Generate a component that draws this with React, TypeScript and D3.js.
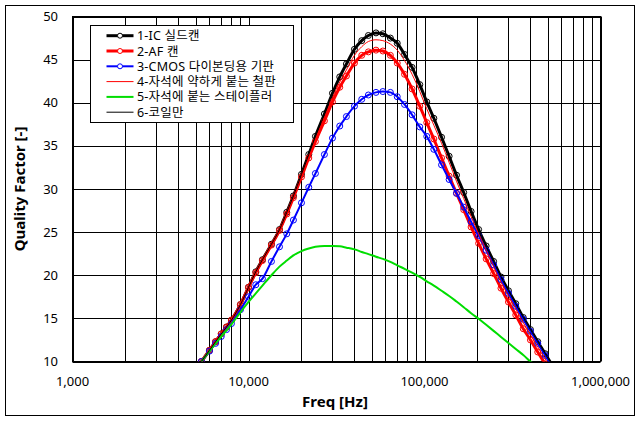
import React from 'react';
import * as d3 from 'd3';

// measured sweep frequencies [Hz]
const freqs = [
  5400, 6000, 6500, 7000, 7500, 8000, 9000, 10000, 11000, 12000, 13500, 15000,
  16500, 18000, 20000, 22000, 24000, 27000, 30000, 33000, 36000, 40000, 44000,
  48000, 53000, 58000, 64000, 70000, 77000, 85000, 94000, 103000, 113000,
  125000, 138000, 152000, 167000, 184000, 203000, 224000, 247000, 272000,
  300000, 330000, 364000, 400000, 440000, 485000, 530000,
];

// Quality factor per series
const q1 = [
  10.0, 11.3, 12.3, 13.2, 14.0, 14.8, 16.6, 18.6, 20.4, 21.8, 23.6, 25.3,
  27.3, 29.2, 31.7, 34.0, 36.1, 38.7, 41.1, 43.0, 44.5, 46.2, 47.2,
  47.8, 48.1, 48.0, 47.5, 46.9, 45.6, 44.1, 42.1, 40.1, 38.2,
  36.0, 33.8, 31.6, 29.6, 27.4, 25.3, 23.4, 21.6, 19.8,
  18.2, 16.7, 15.1, 13.7, 12.3, 10.9, 9.6,
];
const q2 = [
  10.0, 11.3, 12.3, 13.2, 14.0, 14.8, 16.6, 18.6, 20.3, 21.7, 23.5, 25.2,
  27.1, 29.0, 31.4, 33.6, 35.5, 37.9, 40.1, 41.8, 43.1, 44.6, 45.5,
  45.9, 46.1, 46.0, 45.5, 44.6, 43.3, 41.6, 39.6, 37.7, 35.8,
  33.6, 31.5, 29.5, 27.6, 25.6, 23.7, 21.9, 20.2, 18.5,
  16.9, 15.4, 13.8, 12.5, 11.1, 9.7, 8.4,
];
const q3 = [
  10.0, 11.2, 12.1, 12.9, 13.7, 14.4, 16.0, 17.5, 18.9, 19.6, 21.6, 23.3,
  24.8, 26.4, 28.4, 30.2, 31.8, 34.0, 35.9, 37.3, 38.4, 39.6, 40.4,
  40.9, 41.2, 41.3, 41.2, 40.7, 39.8, 38.6, 37.2, 36.1, 34.6,
  32.8, 31.1, 29.5, 27.9, 26.2, 24.6, 22.9, 21.2, 19.5,
  17.9, 16.4, 14.9, 13.5, 12.1, 10.7, 9.4,
];
const q4 = [
  10.0, 11.3, 12.3, 13.2, 14.0, 14.8, 16.6, 18.6, 20.3, 21.7, 23.5, 25.2,
  27.1, 29.1, 31.5, 33.8, 35.8, 38.3, 40.6, 42.4, 43.8, 45.5, 46.5,
  47.1, 47.3, 47.2, 46.8, 46.1, 44.9, 43.3, 41.3, 39.3, 37.4,
  35.3, 33.1, 30.9, 28.9, 26.8, 24.8, 22.9, 21.0, 19.2,
  17.6, 16.1, 14.5, 13.1, 11.7, 10.3, 9.0,
];
const q5 = [
  10.0, 11.2, 12.1, 12.9, 13.6, 14.3, 15.7, 16.9, 17.9, 18.8, 20.0, 21.0,
  21.7, 22.3, 22.8, 23.1, 23.3, 23.4, 23.4, 23.35, 23.2, 23.0, 22.7,
  22.45, 22.15, 21.9, 21.55, 21.15, 20.75, 20.3, 19.8, 19.3, 18.8,
  18.2, 17.6, 16.95, 16.3, 15.6, 14.95, 14.25, 13.55, 12.85,
  12.15, 11.45, 10.75, 10.0, 9.3, 8.6, 8.0,
];
const q6 = [
  10.0, 11.3, 12.3, 13.2, 14.0, 14.8, 16.6, 18.6, 20.4, 21.8, 23.6, 25.3,
  27.3, 29.2, 31.7, 34.0, 36.1, 38.7, 41.1, 43.0, 44.5, 46.2, 47.2,
  47.8, 48.1, 48.0, 47.5, 46.9, 45.6, 44.1, 42.1, 40.1, 38.2,
  36.0, 33.8, 31.6, 29.6, 27.4, 25.3, 23.4, 21.6, 19.8,
  18.2, 16.7, 15.1, 13.7, 12.3, 10.9, 9.6,
];

const seriesNames = [
  '1-IC 실드캔',
  '2-AF 캔',
  '3-CMOS 다이본딩용 기판',
  '4-자석에 약하게 붙는 철판',
  '5-자석에 붙는 스테이플러',
  '6-코일만',
];
const seriesValues = [q1, q2, q3, q4, q5, q6];
const seriesColors = ['#000000', '#ff0000', '#0000ff', '#ff0000', '#00dd00', '#000000'];
const seriesWidths = [3, 3, 2, 1, 2, 1];
const seriesMarkers = [true, true, true, false, false, false];

const yTicks = [10, 15, 20, 25, 30, 35, 40, 45, 50];
const xMajor = [1000, 10000, 100000, 1000000];
const xTickLabels = ['1,000', '10,000', '100,000', '1,000,000'];

const W = 642;
const H = 421;
const plot = { left: 72.5, right: 600.5, top: 16.5, bottom: 361.5 };

const App: React.FC = () => {
  const x = d3.scaleLog().domain([1000, 1000000]).range([plot.left, plot.right]);
  const y = d3.scaleLinear().domain([10, 50]).range([plot.bottom, plot.top]);

  const line = d3
    .line<number>()
    .x((_, i) => x(freqs[i]))
    .y((d) => y(d))
    .curve(d3.curveMonotoneX);

  const tickFont = '"Noto Sans", sans-serif';
  const legendFont = '"Noto Sans", "Noto Sans CJK KR", sans-serif';

  return (
    <svg
      width={W}
      height={H}
      style={{ position: 'absolute', left: 0, top: 0, background: '#fff' }}
    >
      <defs>
        <clipPath id="plotClip">
          <rect x={plot.left} y={plot.top - 4} width={plot.right - plot.left} height={plot.bottom - plot.top + 4} />
        </clipPath>
      </defs>
      <rect x={5.5} y={5.5} width={629} height={410} fill="#fff" stroke="#000" />

      {/* grid */}
      {x.ticks().map((t) => (
        <line key={'vx' + t} x1={Math.round(x(t)) + 0.5} x2={Math.round(x(t)) + 0.5} y1={plot.top} y2={plot.bottom} stroke="#000" strokeWidth={1} />
      ))}
      {yTicks.map((t) => (
        <line key={'hy' + t} x1={plot.left} x2={plot.right} y1={Math.round(y(t)) + 0.5} y2={Math.round(y(t)) + 0.5} stroke="#000" strokeWidth={1} />
      ))}
      <rect x={plot.left} y={plot.top} width={plot.right - plot.left} height={plot.bottom - plot.top} fill="none" stroke="#000" />

      {/* tick labels */}
      {yTicks.map((t) => (
        <text key={'yl' + t} x={58} y={y(t)} dy="0.35em" textAnchor="end" fontFamily={tickFont} fontSize={13} fill="#000">
          {t}
        </text>
      ))}
      {xMajor.map((t, i) => (
        <text key={'xl' + t} x={x(t)} y={381} dy="0.35em" textAnchor="middle" fontFamily={tickFont} fontSize={13} fill="#000">
          {xTickLabels[i]}
        </text>
      ))}

      {/* axis titles */}
      <text x={335} y={402} dy="0.35em" textAnchor="middle" fontFamily={tickFont} fontSize={15} fontWeight="bold">
        Freq [Hz]
      </text>
      <text
        transform={`translate(20,${(plot.top + plot.bottom) / 2}) rotate(-90)`}
        dy="0.35em"
        textAnchor="middle"
        fontFamily={tickFont}
        fontSize={15}
        fontWeight="bold"
      >
        Quality Factor [-]
      </text>

      {/* series */}
      <g clipPath="url(#plotClip)">
        {seriesValues.map((vals, s) => (
          <g key={'s' + s}>
            <path d={line(vals) || ''} fill="none" stroke={seriesColors[s]} strokeWidth={seriesWidths[s]} strokeLinejoin="round" />
            {seriesMarkers[s] &&
              vals.map((v, i) => (
                <circle key={i} cx={x(freqs[i])} cy={y(v)} r={3} fill="none" stroke={seriesColors[s]} strokeWidth={1} />
              ))}
          </g>
        ))}
      </g>

      {/* legend */}
      <rect x={90.5} y={25.5} width={203} height={97} fill="#fff" stroke="#000" />
      {seriesNames.map((name, i) => {
        const ly = 35.7 + i * 15.3;
        return (
          <g key={'lg' + i}>
            <line x1={106.5} x2={133.5} y1={ly} y2={ly} stroke={seriesColors[i]} strokeWidth={seriesWidths[i]} />
            {seriesMarkers[i] && <circle cx={120} cy={ly} r={2.5} fill="#fff" stroke={seriesColors[i]} strokeWidth={1} />}
            <text x={137} y={ly} dy="0.36em" fontFamily={legendFont} fontSize={12.5} letterSpacing={0.2} fill="#000">
              {name}
            </text>
          </g>
        );
      })}
    </svg>
  );
};

export default App;
